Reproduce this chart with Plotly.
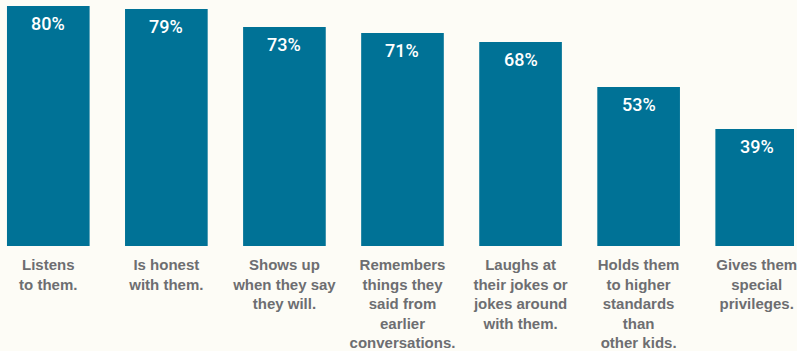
import plotly.graph_objects as go

# Share of respondents citing each behavior
categories = [
    "Listens<br>to them.",
    "Is honest<br>with them.",
    "Shows up<br>when they say<br>they will.",
    "Remembers<br>things they<br>said from<br>earlier<br>conversations.",
    "Laughs at<br>their jokes or<br>jokes around<br>with them.",
    "Holds them<br>to higher<br>standards<br>than<br>other kids.",
    "Gives them<br>special<br>privileges.",
]
values = [80, 79, 73, 71, 68, 53, 39]
value_labels = [f"{v}%" for v in values]

BAR_COLOR = "#007296"
BG = "#fdfcf6"
LABEL_GRAY = "#6d6e71"

fig = go.Figure(
    go.Bar(
        x=categories,
        y=values,
        marker=dict(color=BAR_COLOR, line=dict(width=0)),
        hoverinfo="skip",
    )
)

# Percent labels just inside the top of each bar
for cat, v, lab in zip(categories, values, value_labels):
    fig.add_annotation(
        x=cat,
        y=v,
        text=lab,
        showarrow=False,
        yanchor="middle",
        yshift=-17,
        font=dict(family="Roboto, Liberation Sans, sans-serif", size=18,
                  color="#ffffff", weight=500),
    )

fig.update_layout(
    width=797,
    height=351,
    margin=dict(l=0, r=0, t=6, b=105),
    paper_bgcolor=BG,
    plot_bgcolor=BG,
    bargap=0.30,
    showlegend=False,
    xaxis=dict(
        type="category",
        range=[-0.409, 6.316],
        showgrid=False,
        zeroline=False,
        showline=False,
        ticks="",
        tickfont=dict(family="Liberation Sans, Arial, sans-serif", size=15,
                      color=LABEL_GRAY, weight="bold"),
        ticklabelstandoff=8,
    ),
    yaxis=dict(range=[0, 80], visible=False, fixedrange=True),
)

fig.write_html("out.html")
